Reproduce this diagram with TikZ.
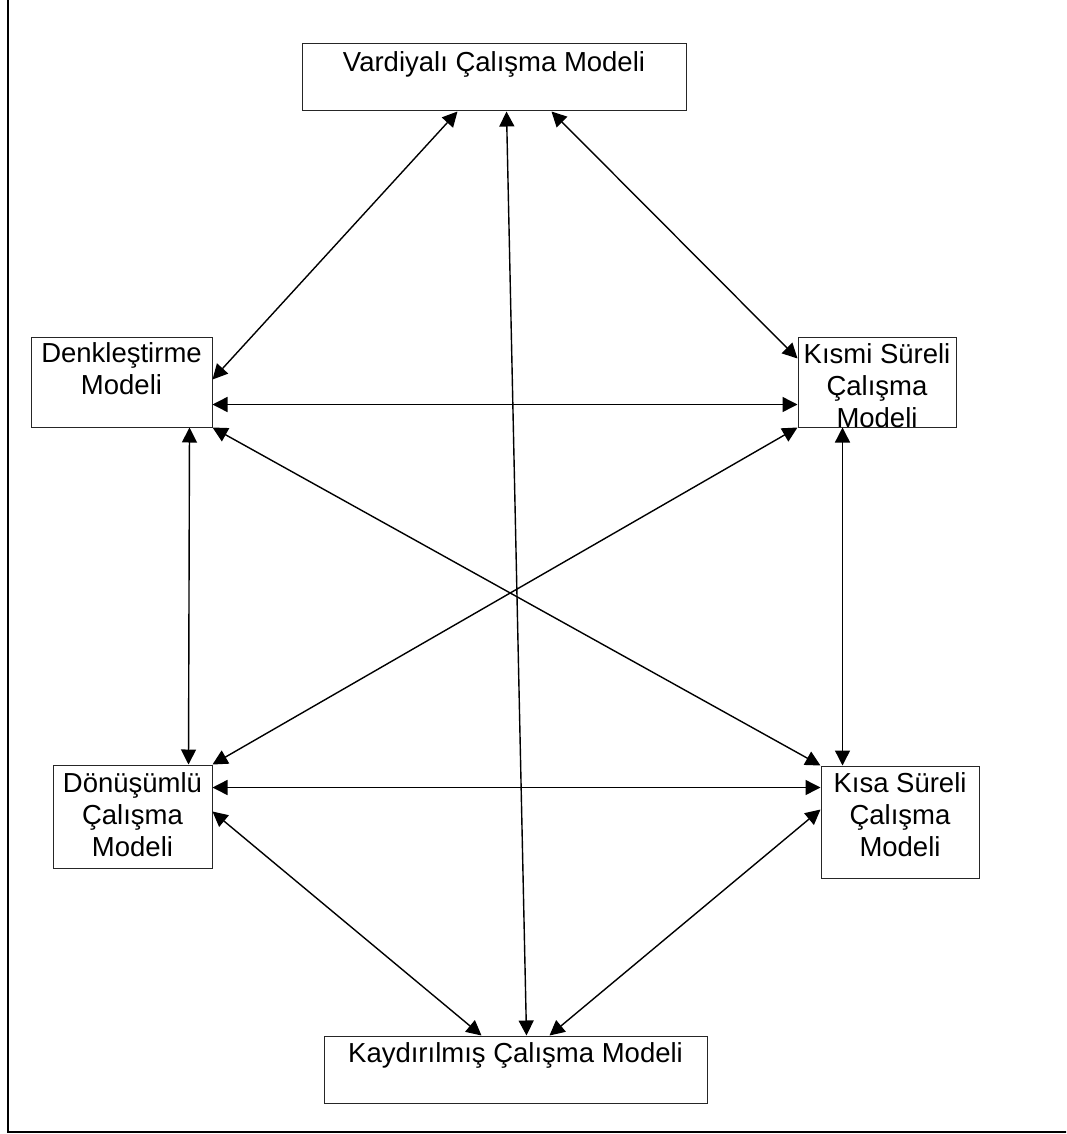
\documentclass[tikz,border=0pt]{standalone}
\usepackage{fontspec}
\setmainfont{Liberation Sans}
\usetikzlibrary{arrows.meta,calc}
\newcommand\boxlines[1]{\begin{tabular}[t]{@{}c@{}}#1\end{tabular}}
\begin{document}
\begin{tikzpicture}[x=1pt,y=-1pt,
  modelbox/.style={draw=black!85,line width=1pt,rectangle,inner sep=0pt},
  label text/.style={anchor=base,inner sep=0pt,font=\fontsize{27.5}{32}\selectfont},
  link/.style={line width=1.4pt,{Triangle[length=15pt,width=15pt]}-{Triangle[length=15pt,width=15pt]}}]
  \useasboundingbox (0,0) rectangle (1066,1134);
  \clip (0,0) rectangle (1066,1134);
  % outer frame (continues past the top and right edges)
  \draw[line width=1.8pt] (8,-20) -- (8,1132) -- (1090,1132);

  % model boxes
  \node[modelbox,minimum width=384pt,minimum height=67pt]  (vard)  at (494,77.5)    {};
  \node[modelbox,minimum width=181pt,minimum height=90pt]  (denk)  at (121.5,382)   {};
  \node[modelbox,minimum width=158pt,minimum height=90pt]  (kismi) at (877,382)     {};
  \node[modelbox,minimum width=159pt,minimum height=103pt] (donus) at (132.5,816.5) {};
  \node[modelbox,minimum width=158pt,minimum height=112pt] (kisa)  at (900,822)     {};
  \node[modelbox,minimum width=383pt,minimum height=67pt]  (kayd)  at (515.5,1069.5){};

  % box texts, set from the top of each box
  \node[label text] (vard-t)  at (494,72)    {\boxlines{Vardiyalı Çalışma Modeli}};
  \node[label text] (denk-t)  at (121.5,362) {\boxlines{Denkleştirme\\Modeli}};
  \node[label text] (kismi-t) at (877,363)   {\boxlines{Kısmi Süreli\\Çalışma\\Modeli}};
  \node[label text] (donus-t) at (132.5,792) {\boxlines{Dönüşümlü\\Çalışma\\Modeli}};
  \node[label text] (kisa-t)  at (900,792)   {\boxlines{Kısa Süreli\\Çalışma\\Modeli}};
  \node[label text] (kayd-t)  at (515.5,1062){\boxlines{Kaydırılmış Çalışma Modeli}};

  % two-way links between the models
  \draw[link] ($(vard.south west)+(156,0)$) -- ($(denk.north east)+(0,43)$);
  \draw[link] ($(vard.south west)+(205,0)$) -- ($(kayd.north west)+(203,0)$);
  \draw[link] ($(vard.south west)+(250,0)$) -- ($(kismi.north west)+(0,22)$);
  \draw[link] ($(denk.north east)+(0,68)$)  -- ($(kismi.north west)+(0,68)$);
  \draw[link] ($(denk.south west)+(159,0)$) -- ($(donus.north west)+(136,0)$);
  \draw[link] (denk.south east) -- (kisa.north west);
  \draw[link] (kismi.south west) -- (donus.north east);
  \draw[link] ($(kismi.south west)+(45,0)$) -- ($(kisa.north west)+(22,0)$);
  \draw[link] ($(donus.north east)+(0,23)$) -- ($(kisa.north west)+(0,22)$);
  \draw[link] ($(donus.north east)+(0,47)$) -- ($(kayd.north west)+(158,0)$);
  \draw[link] ($(kisa.north west)+(0,44)$)  -- ($(kayd.north west)+(226,0)$);
\end{tikzpicture}
\end{document}
